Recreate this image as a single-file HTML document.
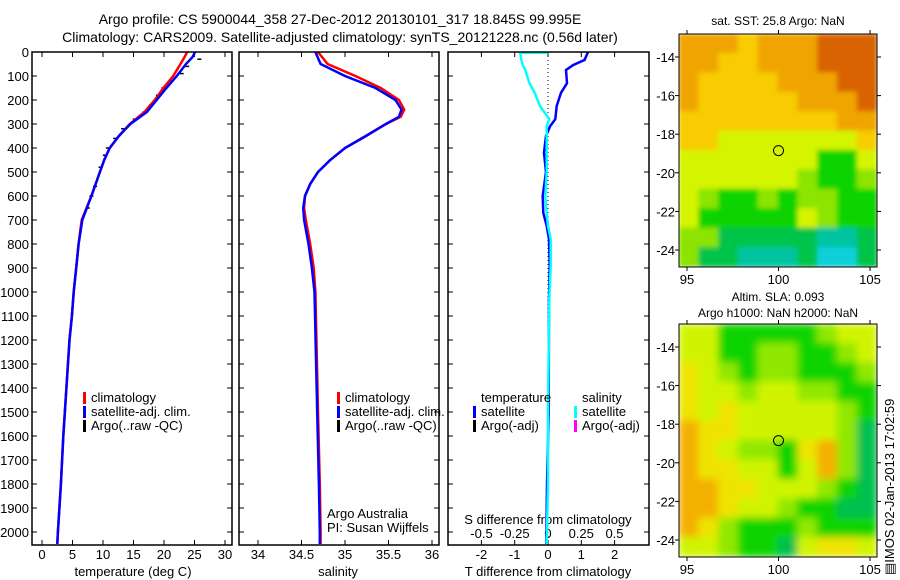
<!DOCTYPE html>
<html><head><meta charset="utf-8"><style>
body{margin:0;background:#fff;}
svg{display:block;font-family:"Liberation Sans",sans-serif;}
text{font-size:13px;fill:#000;}
</style></head><body>
<svg id="fig" width="900" height="580" viewBox="0 0 900 580" xmlns="http://www.w3.org/2000/svg">
<rect width="900" height="580" fill="#fff"/>
<text x="340" y="24" text-anchor="middle" style="font-size:14px">Argo profile: CS 5900044_358 27-Dec-2012 20130101_317 18.845S 99.995E</text>
<text x="340" y="42" text-anchor="middle" style="font-size:14px">Climatology: CARS2009. Satellite-adjusted climatology: synTS_20121228.nc (0.56d later)</text>
<g id="g"></g>
</svg>
<script>
// ---- data ----
const tDepth=[0,20,50,100,150,200,250,300,350,400,450,500,600,700,800,900,1000,1100,1200,1400,1600,1800,2000,2050];
const tClim=[23.8,23.4,22.7,21.5,19.9,18.5,16.8,14.4,12.6,11.1,10.2,9.5,8.1,6.5,6.0,5.6,5.2,4.9,4.5,4.0,3.5,3.1,2.6,2.5];
const tSat=[25.1,24.7,23.6,22.1,20.4,18.8,17.2,14.5,12.6,11.1,10.2,9.5,8.1,6.6,6.0,5.6,5.2,4.9,4.5,4.0,3.5,3.1,2.6,2.5];
const argoDepth=[30,60,90,120,150,180,220,250,280,320,360,400,430,480,560,600,650];
const argoTemp=[25.8,23.8,22.9,21.3,19.9,19.0,17.9,16.8,15.2,13.3,12.0,10.8,10.3,9.6,8.7,8.1,7.5];
const sDepth=[0,50,100,150,200,240,270,300,350,400,450,500,550,600,650,700,800,900,1000,1500,1800,2000,2050];
const sClim=[34.69,34.8,35.12,35.41,35.62,35.68,35.64,35.47,35.24,35.0,34.83,34.69,34.6,34.54,34.53,34.55,34.6,34.64,34.66,34.69,34.71,34.72,34.72];
const sSat=[34.66,34.72,35.0,35.35,35.58,35.65,35.62,35.47,35.24,35.0,34.83,34.69,34.6,34.54,34.52,34.53,34.58,34.62,34.65,34.68,34.70,34.71,34.71];
const dDepth=[0,33,54,75,130,170,225,280,310,350,420,500,600,670,725,780,890,1030,1500,1800,2050];
const dT=[1.2,1.1,0.76,0.54,0.57,0.39,0.26,0.22,0.06,-0.06,-0.12,-0.06,-0.16,-0.14,-0.04,0.03,0.05,0.03,0.02,-0.03,-0.05];
const dS=[-0.21,-0.2,-0.19,-0.17,-0.14,-0.1,-0.06,0.01,-0.01,-0.01,-0.01,-0.01,-0.02,-0.01,0.0,0.02,0.02,0.01,0.0,0.0,-0.01];
const depthTicks=[0,100,200,300,400,500,600,700,800,900,1000,1100,1200,1300,1400,1500,1600,1700,1800,1900,2000];
const tTicks=[0,5,10,15,20,25,30];
const sTicks=[34,34.5,35,35.5,36];
const dTTicks=[-2,-1,0,1,2];
const dSTicks=[-0.5,-0.25,0,0.25,0.5];
const sstMap=["OOOYOOORRR","OOYYOOORRR","OYYYYOOORR","OYYYYYOOOR","YYYYYYYYOO","YYLLLLLLLY","LLLLLLLNNL","LLLLLLGNNG","LGNNGNGGNN","LNNNNNLGNN","GGDDDDDTTD","GDDTTTDCCD"];
const slaMap=["LLNNNNNGLL","LLNNGGNNGL","YLGNGGNNNG","YLLGLLGGNN","YLYLLLLLGN","OYYLLLLLGD","OYLGGNYOGD","OYYLLNLOGD","OOYYLLLGND","OOYLLGNNDD","OYGNNNGNNN","LLGNNDLYYL"];
const lonTicks=[95,100,105];
const latTicks=[14,16,18,20,22,24];
// ---- scales ----
const TOP=52, BOT=545, yD=d=>TOP+d*0.24;
const xT=t=>42+t*6.1, xS=s=>258+(s-34)*87, xDT=v=>548+v*33.3, xDS=v=>548+v*133;
const NS="http://www.w3.org/2000/svg", G=document.getElementById('g');
function el(tag,at,txt){const e=document.createElementNS(NS,tag);for(const k in at)e.setAttribute(k,at[k]);if(txt!==undefined)e.textContent=txt;G.appendChild(e);return e;}
function line(depths,vals,fx,color,w,name){
  const pts=vals.map((v,i)=>fx(v).toFixed(1)+','+yD(depths[i]).toFixed(1)).join(' ');
  const p=el('polyline',{points:pts,fill:'none',stroke:color,'stroke-width':w});
  
  
}
function frame(x0,x1,name){
  const r=el('rect',{x:x0,y:TOP,width:x1-x0,height:BOT-TOP,fill:'none',stroke:'#000','stroke-width':1.5});
  
  
}
function yticks(x0,x1,labels){
  depthTicks.forEach(d=>{
    el('line',{x1:x0,x2:x0+5,y1:yD(d),y2:yD(d),stroke:'#000'});
    el('line',{x1:x1-5,x2:x1,y1:yD(d),y2:yD(d),stroke:'#000'});
    if(labels){const t=el('text',{x:x0-3,y:yD(d)+5,'text-anchor':'end'},d);
      
      }
  });
}
function xticks(ticks,fx,y,name){
  ticks.forEach(v=>{
    el('line',{x1:fx(v),x2:fx(v),y1:BOT,y2:BOT-5,stroke:'#000'});
    el('line',{x1:fx(v),x2:fx(v),y1:TOP,y2:TOP+5,stroke:'#000'});
    const t=el('text',{x:fx(v),y:y,'text-anchor':'middle'},v);
    
    
  });
}
function legend(x,y,color,txt,name){
  el('rect',{x:x,y:y-10,width:3,height:12,fill:color});
  const t=el('text',{x:x+8,y:y},txt);
  
  
}
// panel 1 temperature
yticks(32,232,true);
xticks(tTicks,xT,559,'temp-tick-label');
argoDepth.forEach((d,i)=>{const m=el('line',{x1:xT(argoTemp[i])-2,x2:xT(argoTemp[i])+2,y1:yD(d),y2:yD(d),stroke:'#000','stroke-width':1.5});
  
  });
line(tDepth,tClim,xT,'#f00',2.5,'temp-climatology-line');
line(tDepth,tSat,xT,'#00f',2.5,'temp-satellite-line');
frame(32,232,'temperature-panel');
legend(83,402,'#f00','climatology','legend-climatology');
legend(83,416,'#00f','satellite-adj. clim.','legend-satellite');
legend(83,430,'#000','Argo(..raw -QC)','legend-argo');
el('text',{x:133,y:576,'text-anchor':'middle'},'temperature (deg C)');
// panel 2 salinity
yticks(239,439,false);
xticks(sTicks,xS,559,'salinity-tick-label');
line(sDepth,sClim,xS,'#f00',2.5,'salinity-climatology-line');
line(sDepth,sSat,xS,'#00f',2.5,'salinity-satellite-line');
frame(239,439,'salinity-panel');
legend(337,402,'#f00','climatology','legend-sal-climatology');
legend(337,416,'#00f','satellite-adj. clim.','legend-sal-satellite');
legend(337,430,'#000','Argo(..raw -QC)','legend-sal-argo');
el('text',{x:327,y:518},'Argo Australia');
el('text',{x:327,y:532},'PI: Susan Wijffels');
el('text',{x:338,y:576,'text-anchor':'middle'},'salinity');
// panel 3 differences
yticks(448,649,false);
el('line',{x1:548,x2:548,y1:TOP,y2:BOT,stroke:'#000','stroke-dasharray':'1,3'});
xticks(dTTicks,xDT,559,'tdiff-tick-label');
dSTicks.forEach(v=>{const t=el('text',{x:xDS(v),y:538,'text-anchor':'middle'},v);
  
  });
el('text',{x:548,y:524,'text-anchor':'middle'},'S difference from climatology');
line(dDepth,dT,xDT,'#00f',2.5,'tdiff-satellite-line');
line(dDepth,dS,xDS,'#0ff',2.5,'sdiff-satellite-line');
el('line',{x1:xDS(dS[0]),x2:548,y1:TOP+1,y2:TOP+1,stroke:'#0ff','stroke-width':2});
frame(448,649,'difference-panel');
el('text',{x:481,y:402},'temperature');
el('text',{x:582,y:402},'salinity');
legend(473,416,'#00f','satellite','legend-tdiff-satellite');
legend(473,430,'#000','Argo(-adj)','legend-tdiff-argo');
legend(574,416,'#0ff','satellite','legend-sdiff-satellite');
legend(574,430,'#f0f','Argo(-adj)','legend-sdiff-argo');
el('text',{x:548,y:576,'text-anchor':'middle'},'T difference from climatology');
// maps
const col={R:'#d86400',O:'#f0a400',Y:'#f8cc00',L:'#d4f400',G:'#8ce400',N:'#10d400',D:'#00c448',T:'#00c4a0',C:'#08d0d8'};
const col2={O:'#f4b000',Y:'#eee400',L:'#d0f400',G:'#90e800',N:'#10d400',D:'#00c050'};
function mkFilter(id,sd){
  const f=el('filter',{id:id,x:'-5%',y:'-5%',width:'110%',height:'110%'});
  const fb=document.createElementNS(NS,'feGaussianBlur');fb.setAttribute('stdDeviation',sd);fb.setAttribute('edgeMode','duplicate');f.appendChild(fb);
}
mkFilter('bl','4');
mkFilter('bl2','2.5');
function map(grid,palette,y0,y1,filt,name){
  const x0=679,x1=877,cw=(x1-x0)/10,ch=(y1-y0)/12;
  const cp=el('clipPath',{id:'clip'+name});
  const cr=document.createElementNS(NS,'rect');cr.setAttribute('x',x0);cr.setAttribute('y',y0);cr.setAttribute('width',x1-x0);cr.setAttribute('height',y1-y0);cp.appendChild(cr);
  const outer=document.createElementNS(NS,'g');
  outer.setAttribute('clip-path','url(#clip'+name+')');
  G.appendChild(outer);
  const gg=document.createElementNS(NS,'g');
  gg.setAttribute('filter','url(#'+filt+')');
  
  
  outer.appendChild(gg);
  grid.forEach((row,r)=>[...row].forEach((c,i)=>{
    const e=document.createElementNS(NS,'rect');
    e.setAttribute('x',x0+i*cw-0.5);e.setAttribute('y',y0+r*ch-0.5);
    e.setAttribute('width',cw+1);e.setAttribute('height',ch+1);e.setAttribute('fill',palette[c]);
    gg.appendChild(e);}));
  const fr=el('rect',{x:x0,y:y0,width:x1-x0,height:y1-y0,fill:'none',stroke:'#000'});
  
  
  const lx=v=>687+(v-95)*18.3, ly=v=>y0+23+(v-14)*19.3;
  lonTicks.forEach(v=>{el('line',{x1:lx(v),x2:lx(v),y1:y1,y2:y1+4,stroke:'#000'});el('line',{x1:lx(v),x2:lx(v),y1:y0,y2:y0-4,stroke:'#000'});
    const t=el('text',{x:lx(v),y:y1+17,'text-anchor':'middle'},v);
    
    });
  latTicks.forEach(v=>{el('line',{x1:x0-4,x2:x0,y1:ly(v),y2:ly(v),stroke:'#000'});el('line',{x1:x1,x2:x1+4,y1:ly(v),y2:ly(v),stroke:'#000'});
    const t=el('text',{x:675,y:ly(v)+5,'text-anchor':'end'},'-'+v);
    
    });
  const c=el('circle',{cx:lx(100),cy:ly(18.85),r:5,fill:'none',stroke:'#000'});
  
  
}
map(sstMap,col,34,267,'bl2','sst-map');
map(slaMap,col2,324,557,'bl','sla-map');
el('text',{x:778,y:25,'text-anchor':'middle',style:'font-size:12px'},'sat. SST: 25.8 Argo: NaN');
el('text',{x:778,y:301,'text-anchor':'middle',style:'font-size:12px'},'Altim. SLA: 0.093');
el('text',{x:778,y:317,'text-anchor':'middle',style:'font-size:12px'},'Argo h1000: NaN h2000: NaN');
el('text',{x:0,y:0,transform:'translate(894,575) rotate(-90)',style:'font-size:13px'},'\u25A4IMOS 02-Jan-2013 17:02:59');
</script>
</body></html>
